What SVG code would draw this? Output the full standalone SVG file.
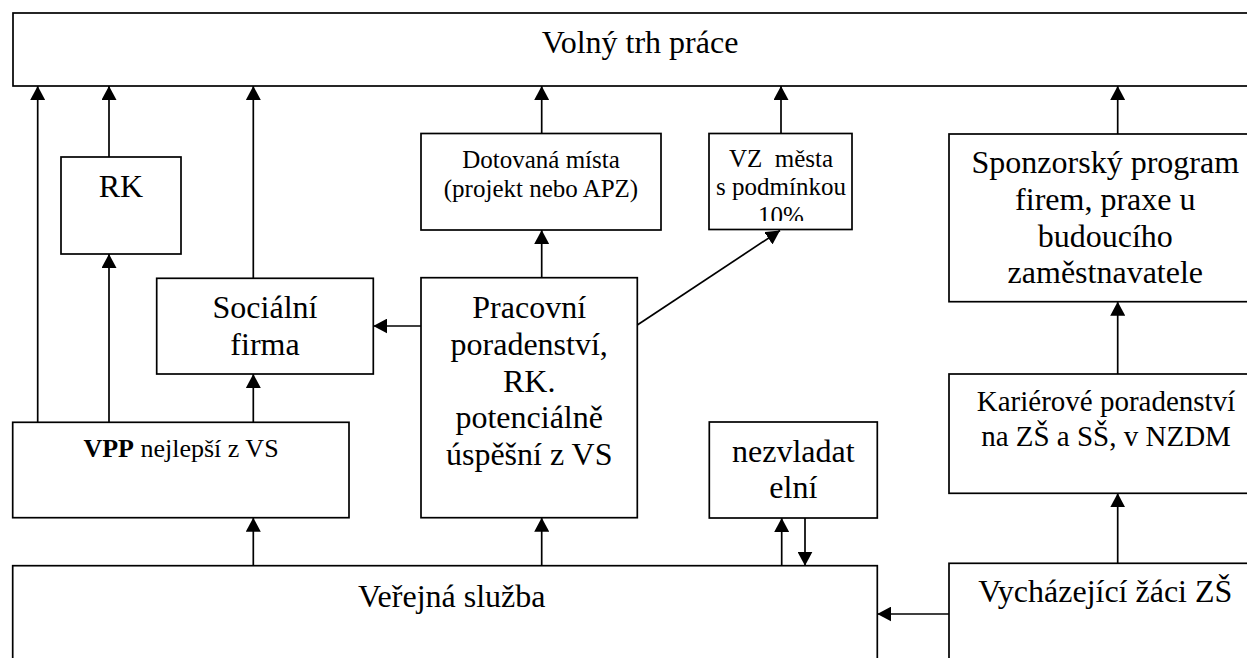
<svg xmlns="http://www.w3.org/2000/svg" width="1247" height="658" viewBox="0 0 1247 658">
<defs>
<marker id="ah" markerUnits="userSpaceOnUse" markerWidth="14" markerHeight="15" refX="14" refY="7.5" orient="auto">
<path d="M0,0 L14,7.5 L0,15 z" fill="#000"/>
</marker>
<clipPath id="vzclip"><rect x="709" y="133" width="144" height="88"/></clipPath>
</defs>
<rect width="1247" height="658" fill="#fff"/>
<g id="nodes" fill="#fff" stroke="#000" stroke-width="1.7">
<g id="volny-trh"><rect x="13" y="13" width="1260" height="73"/></g>
<g id="rk"><rect x="61" y="157" width="120" height="97"/></g>
<g id="dotovana"><rect x="421" y="133.5" width="240" height="96.5"/></g>
<g id="vz-mesta"><rect x="709" y="133.5" width="143" height="96"/></g>
<g id="sponzorsky"><rect x="949" y="134" width="320" height="167.7"/></g>
<g id="socialni-firma"><rect x="156.7" y="278.3" width="216.6" height="95.7"/></g>
<g id="pracovni"><rect x="421" y="277.7" width="216.3" height="240"/></g>
<g id="vpp"><rect x="12.7" y="422.3" width="336.3" height="95.4"/></g>
<g id="nezvladatelni"><rect x="709.3" y="422" width="168" height="96"/></g>
<g id="karierove"><rect x="949" y="374" width="320" height="119.3"/></g>
<g id="verejna-sluzba"><rect x="12.7" y="565.7" width="864.6" height="120"/></g>
<g id="vychazejici"><rect x="949" y="563.3" width="320" height="120"/></g>
</g>
<g id="labels" font-family="Times New Roman, Liberation Serif, serif" fill="#000" text-anchor="middle" font-size="32">
<text x="640" y="53.3">Volný trh práce</text>
<text x="121" y="196.7">RK</text>
<text x="541" y="168.3" font-size="25">Dotovaná místa</text>
<text x="541" y="196.7" font-size="25">(projekt nebo APZ)</text>
<g clip-path="url(#vzclip)" font-size="25">
<text x="781" y="166.7" xml:space="preserve">VZ  města</text>
<text x="781" y="194.5">s podmínkou</text>
<text x="781" y="223.5">10%</text>
</g>
<text x="1105.3" y="173.3">Sponzorský program</text>
<text x="1105.3" y="210">firem, praxe u</text>
<text x="1105.3" y="246.7">budoucího</text>
<text x="1105.3" y="283.3">zaměstnavatele</text>
<text x="265" y="318.3">Sociální</text>
<text x="265" y="355">firma</text>
<text x="529.2" y="318.3">Pracovní</text>
<text x="529.2" y="355">poradenství,</text>
<text x="529.2" y="391.7">RK.</text>
<text x="529.2" y="428.4">potenciálně</text>
<text x="529.2" y="465">úspěšní z VS</text>
<text x="181" y="457.3" font-size="26"><tspan font-weight="bold">VPP</tspan> nejlepší z VS</text>
<text x="793.3" y="461.7">nezvladat</text>
<text x="793.3" y="498.3">elní</text>
<text x="1106" y="411" font-size="29">Kariérové poradenství</text>
<text x="1106" y="445.7" font-size="29">na ZŠ a SŠ, v NZDM</text>
<text x="358" y="607.3" text-anchor="start">Veřejná služba</text>
<text x="1105.3" y="601.7">Vycházející žáci ZŠ</text>
</g>
<g id="connectors" stroke="#000" stroke-width="1.7" marker-end="url(#ah)">
<line x1="37.7" y1="422.3" x2="37.7" y2="86"/>
<line x1="109" y1="422.3" x2="109" y2="254"/>
<line x1="109" y1="157" x2="109" y2="86"/>
<line x1="253.3" y1="422.3" x2="253.3" y2="374"/>
<line x1="253.3" y1="278.3" x2="253.3" y2="86"/>
<line x1="253.3" y1="565.7" x2="253.3" y2="517.7"/>
<line x1="421" y1="326" x2="373.3" y2="326"/>
<line x1="541.7" y1="277.7" x2="541.7" y2="230"/>
<line x1="541.7" y1="133.5" x2="541.7" y2="86"/>
<line x1="637.3" y1="325" x2="780" y2="230.5"/>
<line x1="781" y1="133.5" x2="781" y2="86"/>
<line x1="541.7" y1="565.7" x2="541.7" y2="517.7"/>
<line x1="781.7" y1="565.7" x2="781.7" y2="518"/>
<line x1="805" y1="518" x2="805" y2="565.7"/>
<line x1="949" y1="614" x2="877.3" y2="614"/>
<line x1="1117.7" y1="563.3" x2="1117.7" y2="493.3"/>
<line x1="1117.7" y1="374" x2="1117.7" y2="301.7"/>
<line x1="1117.7" y1="134" x2="1117.7" y2="86"/>
</g>
</svg>
